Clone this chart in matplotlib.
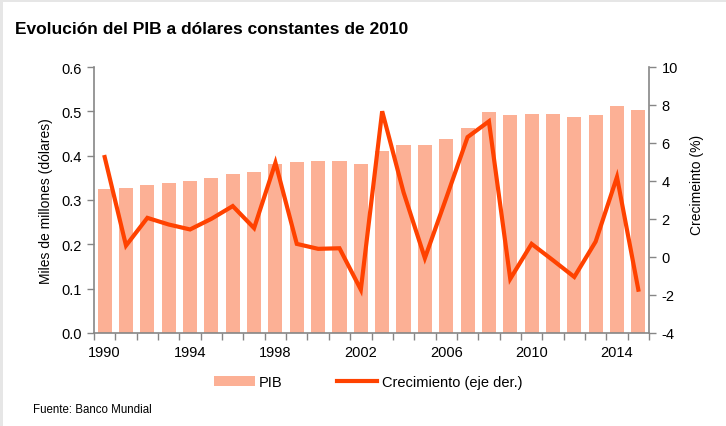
import numpy as np
import matplotlib.pyplot as plt
from matplotlib.patches import Patch, Rectangle
from matplotlib.lines import Line2D

plt.rcParams['font.family'] = ['Liberation Sans', 'DejaVu Sans']
plt.rcParams['axes.unicode_minus'] = False

# datos
years = list(range(1990, 2016))
pib = [0.324, 0.326, 0.333, 0.339, 0.343, 0.349, 0.359, 0.364, 0.382, 0.385,
       0.387, 0.388, 0.382, 0.411, 0.424, 0.424, 0.437, 0.463, 0.498, 0.491,
       0.494, 0.493, 0.488, 0.492, 0.512, 0.503]
crecimiento = [5.26, 0.60, 2.06, 1.71, 1.45, 2.01, 2.68, 1.52, 4.96, 0.69,
               0.43, 0.46, -1.72, 7.67, 3.41, -0.06, 3.10, 6.31, 7.14, -1.15,
               0.69, -0.17, -1.05, 0.81, 4.21, -1.72]
year_labels = [str(y) if (y - 1990) % 4 == 0 else "" for y in years]

bar_color = "#FCB095"
line_color = "#FF4200"
spine_color = "#868686"

fig = plt.figure(figsize=(7.26, 4.27), dpi=100)
# marco gris
fig.patches.append(Rectangle((0, 0), 1, 1, transform=fig.transFigure,
                             facecolor="#e6e6e6", edgecolor="none", zorder=-2))
fig.patches.append(Rectangle((3 / 726, 0), 1, 1 - 3 / 427, transform=fig.transFigure,
                             facecolor="white", edgecolor="none", zorder=-1))

ax = fig.add_axes([94 / 726, 1 - 334 / 427, 555 / 726, 266 / 427])
x = np.arange(len(years))
ax.bar(x, pib, width=0.66, color=bar_color, zorder=2)
ax.set_xlim(-0.5, len(years) - 0.5)
ax.set_ylim(0, 0.6)
ax.set_yticks(np.arange(0, 0.61, 0.1))
ax.set_yticklabels([f"{v:.1f}" for v in np.arange(0, 0.61, 0.1)])
ax.set_xticks(x)
ax.set_xticklabels(year_labels)
ax.set_xticks(np.arange(-0.5, len(years)), minor=True)
ax.tick_params(axis="x", which="major", length=0, pad=9, labelsize=10.5)
ax.tick_params(axis="x", which="minor", length=5, width=1, color=spine_color)
ax.tick_params(axis="y", length=5, width=1, color=spine_color, labelsize=10.5, pad=4)
ax.set_ylabel("Miles de millones (dólares)", fontsize=10)
ax.yaxis.set_label_coords(-0.073, 0.5)
for s in ["top", "right"]:
    ax.spines[s].set_visible(False)
for s in ["left", "bottom"]:
    ax.spines[s].set_color(spine_color)
    ax.spines[s].set_linewidth(1.2)

ax2 = ax.twinx()
ax2.plot(x, crecimiento, color=line_color, linewidth=3, solid_joinstyle="miter", zorder=3)
ax2.set_ylim(-4, 10)
ax2.set_yticks(range(-4, 11, 2))
ax2.tick_params(axis="y", length=5, width=1, color=spine_color, labelsize=10.5, pad=4)
ax2.set_ylabel("Crecimeinto (%)", fontsize=10)
ax2.yaxis.set_label_coords(1.073, 0.56)
for s in ["top", "left", "bottom"]:
    ax2.spines[s].set_visible(False)
ax2.spines["right"].set_color(spine_color)
ax2.spines["right"].set_linewidth(1.2)

fig.text(15 / 726, 1 - 30 / 427, "Evolución del PIB a dólares constantes de 2010",
         fontsize=12.5, fontweight="bold", va="center", ha="left")
fig.text(33 / 726, 1 - 410 / 427, "Fuente: Banco Mundial", fontsize=8.3,
         va="center", ha="left")

handles = [Patch(facecolor=bar_color, edgecolor="none"),
           Line2D([0], [0], color=line_color, linewidth=3)]
fig.legend(handles, ["PIB", "Crecimiento (eje der.)"], ncol=2, frameon=False,
           loc="center", bbox_to_anchor=(368 / 726, 1 - 383 / 427),
           fontsize=10.5, handlelength=2.8, handletextpad=0.3, columnspacing=3.7)

fig.savefig("out.png", dpi=100)
